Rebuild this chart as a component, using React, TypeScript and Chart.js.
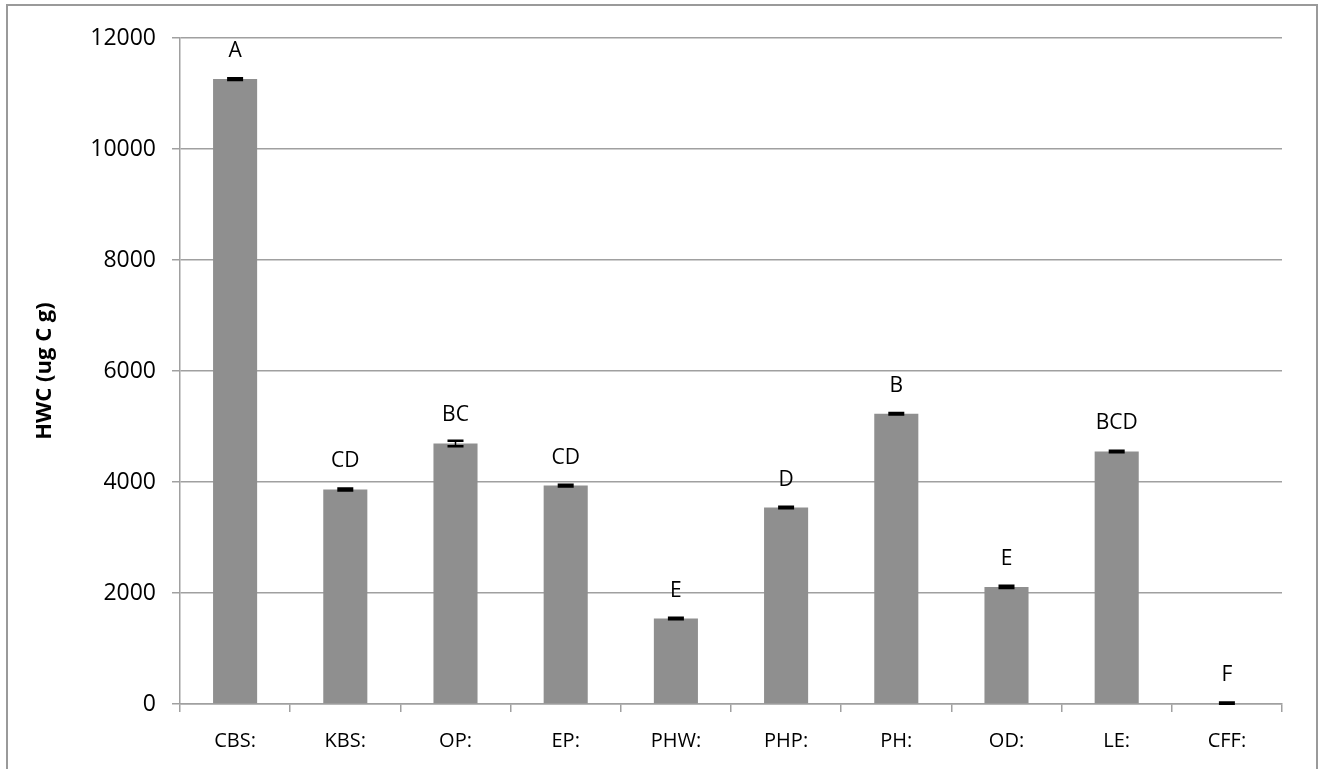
import React, { useEffect, useRef } from "react";
import { Chart, registerables } from "chart.js";

Chart.register(...registerables);

const categories = ["CBS:", "KBS:", "OP:", "EP:", "PHW:", "PHP:", "PH:", "OD:", "LE:", "CFF:"];
const hwcValues = [11260, 3865, 4695, 3935, 1540, 3540, 5230, 2110, 4550, 15];
const hwcErrors = [15, 20, 50, 15, 15, 15, 15, 20, 15, 10];
const groupLetters = ["A", "CD", "BC", "CD", "E", "D", "B", "E", "BCD", "F"];
const yTicks = [0, 2000, 4000, 6000, 8000, 10000, 12000];

const FONT = "'Open Sans', 'Noto Sans', sans-serif";

const framePlugin = {
  id: "frame",
  beforeDraw(chart: any) {
    const ctx = chart.ctx;
    ctx.save();
    ctx.fillStyle = "#ffffff";
    ctx.fillRect(0, 0, chart.width, chart.height);
    ctx.strokeStyle = "#9a9a9a";
    ctx.lineWidth = 2;
    ctx.strokeRect(7, 5, 1310, 800);
    ctx.restore();
  },
};

const errorLetterPlugin = {
  id: "errorLetters",
  afterDatasetsDraw(chart: any) {
    const ctx = chart.ctx;
    const meta = chart.getDatasetMeta(0);
    const y = chart.scales.y;
    ctx.save();
    meta.data.forEach((bar: any, i: number) => {
      const v = hwcValues[i];
      const e = hwcErrors[i];
      const x = bar.x;
      const yTop = y.getPixelForValue(v + e);
      const yBot = y.getPixelForValue(v - e);
      ctx.strokeStyle = "#000000";
      ctx.lineWidth = 1.5;
      ctx.beginPath();
      ctx.moveTo(x, yTop);
      ctx.lineTo(x, yBot);
      ctx.stroke();
      ctx.lineWidth = 2.5;
      ctx.beginPath();
      ctx.moveTo(x - 8, yTop);
      ctx.lineTo(x + 8, yTop);
      ctx.moveTo(x - 8, yBot);
      ctx.lineTo(x + 8, yBot);
      ctx.stroke();
      ctx.fillStyle = "#000000";
      ctx.font = `21px ${FONT}`;
      ctx.textAlign = "center";
      ctx.textBaseline = "middle";
      ctx.fillText(groupLetters[i], x, y.getPixelForValue(v) - 28);
    });
    ctx.restore();
  },
};

export default function App() {
  const ref = useRef<HTMLCanvasElement | null>(null);

  useEffect(() => {
    if (!ref.current) return;
    const chart = new Chart(ref.current, {
      type: "bar",
      data: {
        labels: categories,
        datasets: [
          {
            label: "HWC",
            data: hwcValues,
            backgroundColor: "#8f8f8f",
            borderWidth: 0,
            categoryPercentage: 1,
            barPercentage: 0.4,
          },
        ],
      },
      options: {
        animation: false,
        responsive: false,
        maintainAspectRatio: false,
        layout: { padding: { left: 0, right: 40, top: 38, bottom: 0 } },
        plugins: {
          legend: { display: false },
          tooltip: { enabled: false },
        },
        scales: {
          x: {
            afterFit: (scale: any) => {
              scale.height = 65;
            },
            grid: {
              display: true,
              drawOnChartArea: false,
              drawTicks: true,
              tickLength: 8,
              color: "#a0a0a0",
              lineWidth: 1.5,
              offset: true,
            },
            border: { display: true, color: "#a0a0a0", width: 1.5 },
            ticks: {
              color: "#000000",
              font: { family: FONT, size: 20 },
              padding: 17,
              maxRotation: 0,
            },
          },
          y: {
            min: 0,
            max: 12000,
            afterFit: (scale: any) => {
              scale.width = 180;
            },
            afterBuildTicks: (scale: any) => {
              scale.ticks = yTicks.map((v) => ({ value: v }));
            },
            grid: {
              color: "#a0a0a0",
              lineWidth: 1.5,
              drawTicks: true,
              tickLength: 8,
            },
            border: { display: true, color: "#a0a0a0", width: 1.5 },
            ticks: {
              color: "#000000",
              font: { family: FONT, size: 23 },
              padding: 16,
              callback: (v: any) => String(v),
            },
            title: {
              display: true,
              text: "HWC (ug C g)",
              color: "#000000",
              font: { family: FONT, size: 22, weight: "bold" },
              padding: { top: 32, bottom: 0 },
            },
          },
        },
      },
      plugins: [framePlugin, errorLetterPlugin],
    });
    return () => chart.destroy();
  }, []);

  return (
    <div style={{ position: "absolute", left: 0, top: 0, width: 1322, height: 769 }}>
      <canvas ref={ref} width={1322} height={769} style={{ display: "block" }} />
    </div>
  );
}
